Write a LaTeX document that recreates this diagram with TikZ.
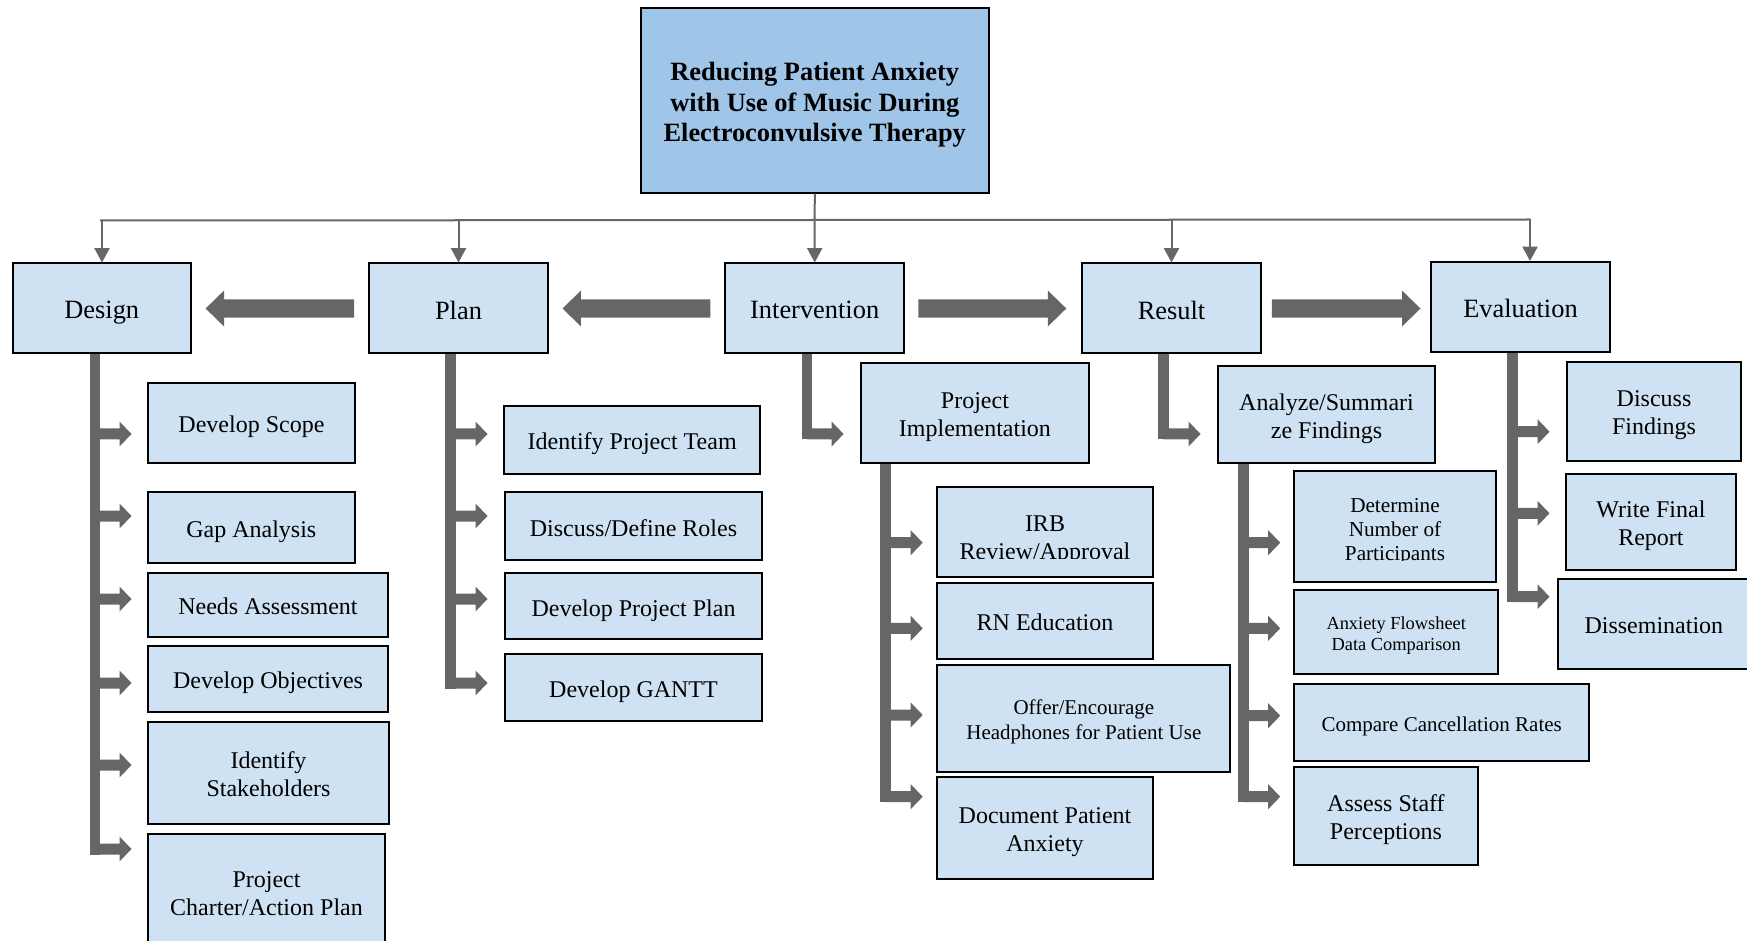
\documentclass[tikz,border=0pt]{standalone}
\usepackage{fontspec}
\setmainfont{Liberation Serif}
\usetikzlibrary{arrows.meta,calc}
\definecolor{boxblue}{HTML}{CFE2F3}
\definecolor{titleblue}{HTML}{9FC5E8}
\definecolor{arrowgray}{HTML}{666666}

% #1 style, #2 name, #3 x1, #4 y1, #5 x2, #6 y2, #7 text
\newcommand\mybox[7][]{%
  \pgfmathsetmacro\mbw{(#5-#3)*0.5}%
  \pgfmathsetmacro\mbh{(#6-#4)*0.5}%
  \pgfmathsetmacro\mbcx{(#3+#5)/2}%
  \pgfmathsetmacro\mbcy{(#4+#6)/2}%
  \node[box,#1,minimum width=\mbw pt,minimum height=\mbh pt] (#2) at (\mbcx,\mbcy) {};%
  \node[#1,draw=none,fill=none,inner sep=0pt,align=center,text depth=0.25em] (#2-t) at (\mbcx,\mbcy+4) {#7};%
}
% trunk: cx, top, last branch y
\newcommand\mytrunk[3]{%
  \fill[arrowgray] ({#1-5.25},{#2}) rectangle ({#1+5.25},{#3+5.5});%
}
% branch: trunk cx, y, tip x
\newcommand\mybranch[3]{%
  \fill[arrowgray] ({#1},{#2-5.5}) -- ({#3-12},{#2-5.5}) -- ({#3-12},{#2-12.5}) -- ({#3},{#2})
    -- ({#3-12},{#2+12.5}) -- ({#3-12},{#2+5.5}) -- ({#1},{#2+5.5}) -- cycle;%
}
% big block arrows: start coordinate, tip coordinate (same y)
\newcommand\bigarrowR[2]{%
  \fill[arrowgray] ($(#1)+(0,-9.2)$) -- ($(#2)+(-18.4,-9.2)$) -- ($(#2)+(-18.4,-17.9)$) -- (#2)
    -- ($(#2)+(-18.4,17.9)$) -- ($(#2)+(-18.4,9.2)$) -- ($(#1)+(0,9.2)$) -- cycle;%
}
\newcommand\bigarrowL[2]{%
  \fill[arrowgray] ($(#1)+(0,-9.2)$) -- ($(#2)+(18.4,-9.2)$) -- ($(#2)+(18.4,-17.9)$) -- (#2)
    -- ($(#2)+(18.4,17.9)$) -- ($(#2)+(18.4,9.2)$) -- ($(#1)+(0,9.2)$) -- cycle;%
}

\begin{document}
\begin{tikzpicture}[x=0.5pt,y=-0.5pt,
  box/.style={draw=black,line width=1pt,fill=boxblue,inner sep=0pt,align=center,text=black},
  ftitle/.style={font=\fontsize{13.2}{15.3}\selectfont\bfseries},
  fhead/.style={font=\fontsize{13.2}{15.5}\selectfont},
  fitem/.style={font=\fontsize{12}{14}\selectfont},
  fsmall/.style={font=\fontsize{10.5}{12.3}\selectfont},
  fdet/.style={font=\fontsize{10.6}{12}\selectfont},
  ftiny/.style={font=\fontsize{9.2}{10.5}\selectfont},
  bus/.style={draw=arrowgray,line width=1pt},
  busarrow/.style={bus,-{Triangle[length=7.2pt,width=7.5pt]}},
]
\useasboundingbox (0,0) rectangle (1747,941);
\clip (0,0) rectangle (1747,941);

% ---- trunks and branch arrows ----
% Design
\mytrunk{95}{353.5}{849}
\foreach \yy in {434,516,599,683,765,849} {\mybranch{95}{\yy}{131.5}}
% Plan
\mytrunk{450.5}{353.5}{683}
\foreach \yy in {434,516,599,683} {\mybranch{450.5}{\yy}{487.5}}
% Intervention (L)
\mytrunk{807}{353.5}{434}
\mybranch{807}{434}{843.6}
% Project Implementation
\mytrunk{885.5}{463.3}{796.7}
\foreach \yy in {542.7,628.3,715,796.7} {\mybranch{885.5}{\yy}{922.7}}
% Result (L)
\mytrunk{1163.4}{353.5}{434}
\mybranch{1163.4}{434}{1200.5}
% Analyze
\mytrunk{1243.5}{463.3}{796.7}
\foreach \yy in {542.7,628.3,715.7,796.7} {\mybranch{1243.5}{\yy}{1280.2}}
% Evaluation
\mytrunk{1512.5}{352}{596.7}
\foreach \yy in {431.7,513.3,596.7} {\mybranch{1512.5}{\yy}{1549.5}}

% ---- title and phase boxes ----
\mybox[ftitle,fill=titleblue]{title}{641}{8.5}{988.5}{192.7}{Reducing Patient Anxiety\\with Use of Music During\\Electroconvulsive Therapy}
\mybox[fhead]{design}{12.6}{263.5}{191}{353.5}{Design}
\mybox[fhead]{plan}{369}{263.5}{548}{353.5}{Plan}
\mybox[fhead]{interv}{725.4}{263.5}{904}{353.5}{Intervention}
\mybox[fhead]{result}{1082}{263.5}{1261}{353.5}{Result}
\mybox[fhead]{eval}{1431}{262}{1610}{352}{Evaluation}

% ---- Design items ----
\mybox[fitem]{dscope}{148.4}{382.7}{354.5}{463}{Develop Scope}
\mybox[fitem]{dgap}{148}{492.3}{354.6}{563.3}{Gap Analysis}
\mybox[fitem]{dneeds}{148}{573.3}{388}{636.7}{Needs Assessment}
\mybox[fitem]{dobj}{148}{645.7}{388}{712.3}{Develop Objectives}
\mybox[fitem]{dstake}{148}{721.7}{389}{824.3}{Identify\\Stakeholders}
\mybox[fitem]{dcharter}{148}{834}{385}{950}{Project\\Charter/Action Plan}

% ---- Plan items ----
\mybox[fitem]{pteam}{504.4}{405.7}{760}{473.5}{Identify Project Team}
\mybox[fitem]{proles}{505}{492.3}{762}{560}{Discuss/Define Roles}
\mybox[fitem]{pplan}{505}{573.3}{762}{639.3}{Develop Project Plan}
\mybox[fitem]{pgantt}{505}{654}{762}{720.7}{Develop GANTT}

% ---- Intervention items ----
\mybox[fitem]{iproj}{861.2}{363}{1088.7}{463.3}{Project\\Implementation}
\mybox[fitem]{iirb}{937.3}{487.3}{1152.7}{576.7}{}
\begin{scope}
  \clip (937.3,487.3) rectangle (1152.7,558.5);
  \node[fitem,align=center,inner sep=0pt] (iirbtext) at (1045,540) {IRB\\Review/Approval};
\end{scope}
\mybox[fitem]{irn}{937.3}{583.3}{1152.7}{659}{RN Education}
\mybox[fsmall]{ioffer}{937.3}{665}{1230.4}{771.7}{Offer/Encourage\\Headphones for Patient Use}
\mybox[fitem]{idoc}{937.3}{776.7}{1152.7}{879.3}{Document Patient\\Anxiety}

% ---- Result items ----
\mybox[fitem]{ranalyze}{1218}{365.7}{1435}{463.3}{Analyze/Summari\\ze Findings}
\mybox[fdet]{rdet}{1294.3}{471}{1495.7}{581.7}{}
\begin{scope}
  \clip (1294.3,471) rectangle (1495.7,560.5);
  \node[fdet,align=center,inner sep=0pt] (rdettext) at (1395,531.7) {Determine\\Number of\\Participants};
\end{scope}
\mybox[ftiny]{rflow}{1294.3}{590}{1498.2}{674}{Anxiety Flowsheet\\Data Comparison}
\mybox[fsmall]{rcancel}{1294.3}{684}{1589}{760.7}{Compare Cancellation Rates}
\mybox[fitem]{rstaff}{1294.3}{766.7}{1477.6}{865}{Assess Staff\\Perceptions}

% ---- Evaluation items ----
\mybox[fitem]{ediscuss}{1567.2}{361.7}{1740.8}{461}{Discuss\\Findings}
\mybox[fitem]{ewrite}{1565.7}{474}{1736.2}{570}{Write Final\\Report}
\mybox[fitem]{ediss}{1557.7}{579.3}{1750}{669}{Dissemination}

% ---- big block arrows between phases ----
\coordinate (a1s) at ($(plan.west)+(-14,0)$);
\coordinate (a1t) at ($(design.east)+(13.6,0)$);
\bigarrowL{a1s}{a1t}
\coordinate (a2s) at ($(interv.west)+(-14,0)$);
\coordinate (a2t) at ($(plan.east)+(13.5,0)$);
\bigarrowL{a2s}{a2t}
\coordinate (a3s) at ($(interv.east)+(13.4,0)$);
\coordinate (a3t) at ($(result.west)+(-14.7,0)$);
\bigarrowR{a3s}{a3t}
\coordinate (a4s) at ($(result.east)+(9.8,0)$);
\coordinate (a4t) at ($(eval.west |- result.east)+(-9.5,0)$);
\bigarrowR{a4s}{a4t}

% ---- thin bus connectors ----
\coordinate (busL) at (100,220.5);
\coordinate (busR) at (1530,219.5);
\draw[bus] (busL) -- (busR);
\draw[busarrow] (title.south) -- (interv.north);
\coordinate (dD) at (102,220.5);
\coordinate (dP) at (458.5,220.3);
\coordinate (dR) at (1171.5,219.8);
\coordinate (dE) at (1530,219.5);
\draw[busarrow] (dD) -- (dD |- design.north);
\draw[busarrow] (dP) -- (dP |- plan.north);
\draw[busarrow] (dR) -- (dR |- result.north);
\draw[busarrow] (dE) -- (dE |- eval.north);
\end{tikzpicture}
\end{document}
